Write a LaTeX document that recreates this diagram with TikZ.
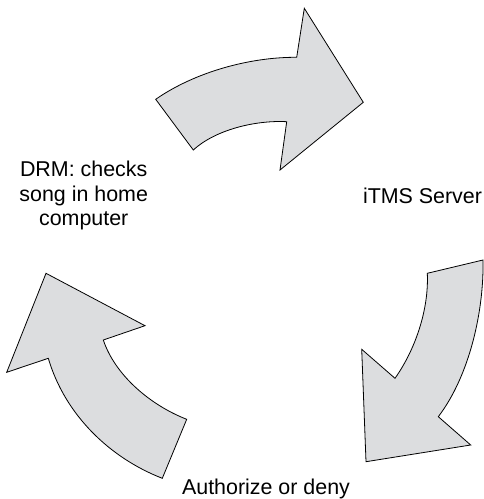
\documentclass[tikz,border=0pt]{standalone}
\usepackage{fontspec}
\setmainfont{Liberation Sans}
\definecolor{arrowfill}{HTML}{DCDDDF}
\begin{document}
\begin{tikzpicture}[x=1bp,y=-1bp,
  bigarrow/.style={fill=arrowfill,draw=black,line width=0.8bp,line join=miter},
  lbl/.style={font=\fontsize{21.5}{24.2}\selectfont,align=center,inner sep=0pt,anchor=base}]
\useasboundingbox (0,0) rectangle (484,499);
% top arrow
\path[bigarrow] (155.7,99.3) .. controls (195,72) and (250,57) .. (296.7,57.3)
  -- (304.3,8.3) -- (363.3,102.3) -- (280,170) -- (286.7,121.7)
  .. controls (255,120) and (215,130) .. (193.3,150) -- cycle;
% right arrow
\path[bigarrow] (427.3,273.3) .. controls (429,310) and (415,350) .. (395,378.3)
  -- (361.7,349.3) -- (366,461.7) -- (470.7,445) -- (438.3,416.7)
  .. controls (470,375) and (484,310) .. (483,260) -- cycle;
% left arrow
\path[bigarrow] (46,273.3) -- (145,325.7) -- (103.3,340)
  .. controls (115,375) and (150,405) .. (186.7,419.3)
  -- (162.3,478.3) .. controls (110,458) and (65,415) .. (48.3,358.3)
  -- (6.7,372.3) -- cycle;
% labels
\node[lbl] (drm) at (83.7,225.2) {DRM: checks\\song in home\\computer};
\node[lbl] (itms) at (422.5,203.3) {iTMS Server};
\node[lbl] (auth) at (266,494) {Authorize or deny};
\end{tikzpicture}
\end{document}
